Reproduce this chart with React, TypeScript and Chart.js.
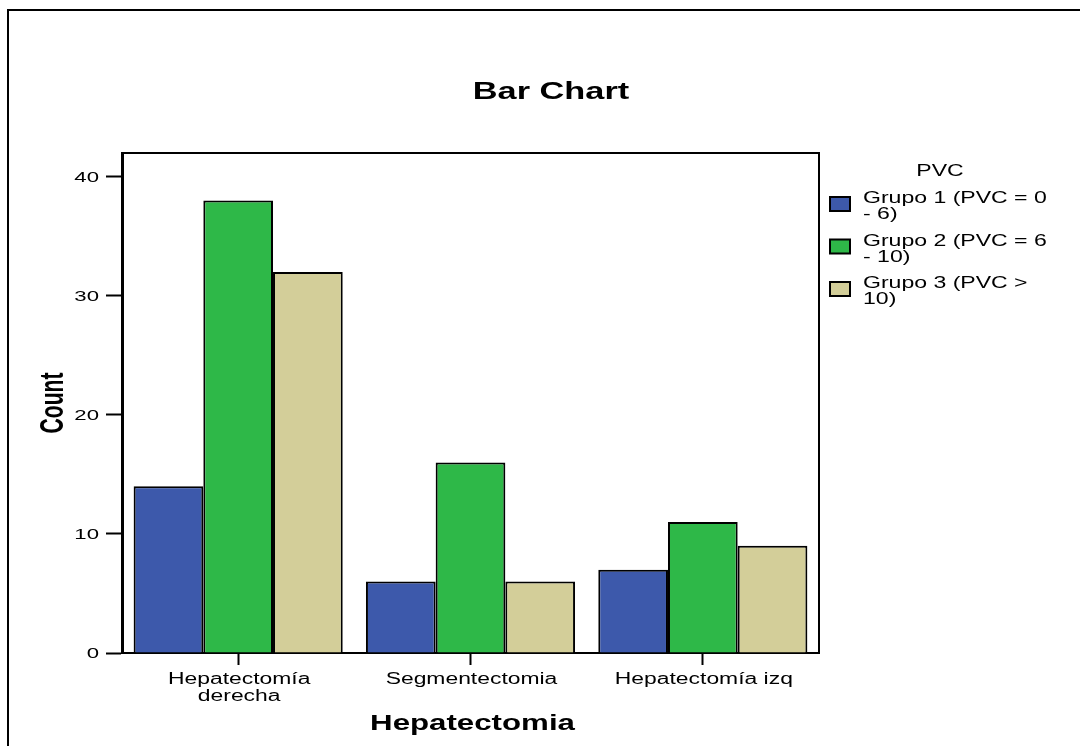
import React, { useEffect, useRef } from "react";
import { Chart, registerables } from "chart.js";
Chart.register(...registerables);

const categories: (string | string[])[] = [["Hepatectomía", "derecha"], "Segmentectomia", "Hepatectomía izq"];
const seriesLabels = ["Grupo 1 (PVC = 0 - 6)", "Grupo 2 (PVC = 6 - 10)", "Grupo 3 (PVC > 10)"];
const legendLines = [["Grupo 1 (PVC = 0", "- 6)"], ["Grupo 2 (PVC = 6", "- 10)"], ["Grupo 3 (PVC >", "10)"]];
const grupo1 = [14, 6, 7];
const grupo2 = [38, 16, 11];
const grupo3 = [32, 6, 9];
const yTickValues = [0, 10, 20, 30, 40];
const seriesColors = ["#3D59AB", "#2EB848", "#D3CE99"];
const chartTitle = "Bar Chart";
const xTitle = "Hepatectomia";
const yTitle = "Count";
const legendTitle = "PVC";

const FONT = '"Liberation Sans", Arial, Helvetica, sans-serif';
const STRETCH = 1.43;

function wideText(
  ctx: CanvasRenderingContext2D,
  text: string,
  x: number,
  y: number,
  align: CanvasTextAlign,
  baseline: CanvasTextBaseline,
  sx: number
) {
  ctx.save();
  ctx.translate(x, y);
  ctx.scale(sx, 1);
  ctx.textAlign = align;
  ctx.textBaseline = baseline;
  ctx.fillText(text, 0, 0);
  ctx.restore();
}

const decor = {
  id: "decor",
  afterDraw(chart: any) {
    const ctx = chart.ctx as CanvasRenderingContext2D;
    const a = chart.chartArea;
    const xs = chart.scales.x;
    const ys = chart.scales.y;
    ctx.save();
    // top and right frame of the plot
    ctx.strokeStyle = "#000";
    ctx.lineWidth = 2;
    ctx.beginPath();
    ctx.moveTo(a.left, a.top);
    ctx.lineTo(a.right, a.top);
    ctx.lineTo(a.right, a.bottom);
    ctx.stroke();

    ctx.fillStyle = "#000";
    // chart title
    ctx.font = `bold 24px ${FONT}`;
    wideText(ctx, chartTitle, 551, 99, "center", "alphabetic", STRETCH);

    // x title
    ctx.font = `bold 22px ${FONT}`;
    wideText(ctx, xTitle, (a.left + a.right) / 2 + 2, 730, "center", "alphabetic", 1.42);

    // y tick labels
    ctx.font = `15.5px ${FONT}`;
    yTickValues.forEach((v) => {
      wideText(ctx, String(v), 99, ys.getPixelForValue(v) + 0.5, "right", "middle", STRETCH);
    });

    // x tick labels
    ctx.font = `16px ${FONT}`;
    categories.forEach((c, i) => {
      const lines = Array.isArray(c) ? c : [c];
      const px = xs.getPixelForTick(i);
      lines.forEach((ln, j) => {
        wideText(ctx, ln, px + 1, 684 + j * 17, "center", "alphabetic", STRETCH);
      });
    });

    // y title (condensed)
    ctx.save();
    ctx.font = `bold 33px "Liberation Sans Narrow", ${FONT}`;
    const w = ctx.measureText(yTitle).width;
    ctx.translate(63, (a.top + a.bottom) / 2);
    ctx.rotate(-Math.PI / 2);
    ctx.scale(61 / w, 1);
    ctx.textAlign = "center";
    ctx.fillText(yTitle, 0, 0);
    ctx.restore();

    // legend
    ctx.font = `16px ${FONT}`;
    wideText(ctx, legendTitle, 940, 176, "center", "alphabetic", 1.44);
    legendLines.forEach((lines, i) => {
      const by = 197 + i * 42.5;
      ctx.fillStyle = seriesColors[i];
      ctx.fillRect(830, by, 20, 14);
      ctx.strokeStyle = "#000";
      ctx.lineWidth = 2;
      ctx.strokeRect(830, by, 20, 14);
      ctx.fillStyle = "#000";
      lines.forEach((ln, j) => {
        wideText(ctx, ln, 863, by + 6 + j * 16, "left", "alphabetic", 1.44);
      });
    });
    ctx.restore();
  },
};

export default function App() {
  const ref = useRef<HTMLCanvasElement | null>(null);
  useEffect(() => {
    const canvas = ref.current!;
    const datasets = [grupo1, grupo2, grupo3].map((d, i) => ({
      label: seriesLabels[i],
      data: d,
      backgroundColor: seriesColors[i],
      borderColor: "#000",
      borderWidth: 2,
      borderSkipped: "start" as const,
      categoryPercentage: 0.9,
      barPercentage: 1.0,
    }));
    const chart = new Chart(canvas, {
      type: "bar",
      data: { labels: categories as any, datasets },
      plugins: [decor],
      options: {
        animation: false,
        responsive: false,
        devicePixelRatio: 1,
        layout: { padding: { top: 153, right: 261, bottom: 0, left: 0 } },
        plugins: {
          legend: { display: false },
          title: { display: false },
          tooltip: { enabled: false },
        },
        scales: {
          x: {
            offset: true,
            grid: {
              offset: false,
              drawOnChartArea: false,
              drawTicks: true,
              tickLength: 12,
              tickWidth: 2,
              tickColor: "#000",
            },
            border: { display: true, color: "#000", width: 2 },
            ticks: {
              color: "rgba(0,0,0,0)",
              font: { family: FONT, size: 16, lineHeight: 1.1 },
              padding: 4,
              maxRotation: 0,
              autoSkip: false,
            },
            afterFit(scale: any) {
              scale.height = 93;
            },
          },
          y: {
            min: 0,
            max: 42,
            grid: {
              drawOnChartArea: false,
              drawTicks: true,
              tickLength: 16,
              tickWidth: 2,
              tickColor: "#000",
            },
            border: { display: true, color: "#000", width: 3 },
            ticks: {
              color: "rgba(0,0,0,0)",
              font: { family: FONT, size: 16 },
              padding: 5,
              includeBounds: false,
            },
            afterBuildTicks(scale: any) {
              scale.ticks = yTickValues.map((v) => ({ value: v }));
            },
            afterFit(scale: any) {
              scale.width = 122;
            },
          },
        },
      } as any,
    });
    return () => chart.destroy();
  }, []);
  return (
    <div style={{ position: "fixed", left: 0, top: 0, width: 1080, height: 746, overflow: "hidden", background: "#fff" }}>
      <div
        style={{
          position: "absolute",
          left: 7,
          top: 9,
          width: 1200,
          height: 900,
          borderLeft: "2px solid #000",
          borderTop: "2px solid #000",
        }}
      />
      <canvas ref={ref} width={1080} height={746} style={{ position: "absolute", left: 0, top: 0 }} />
    </div>
  );
}
